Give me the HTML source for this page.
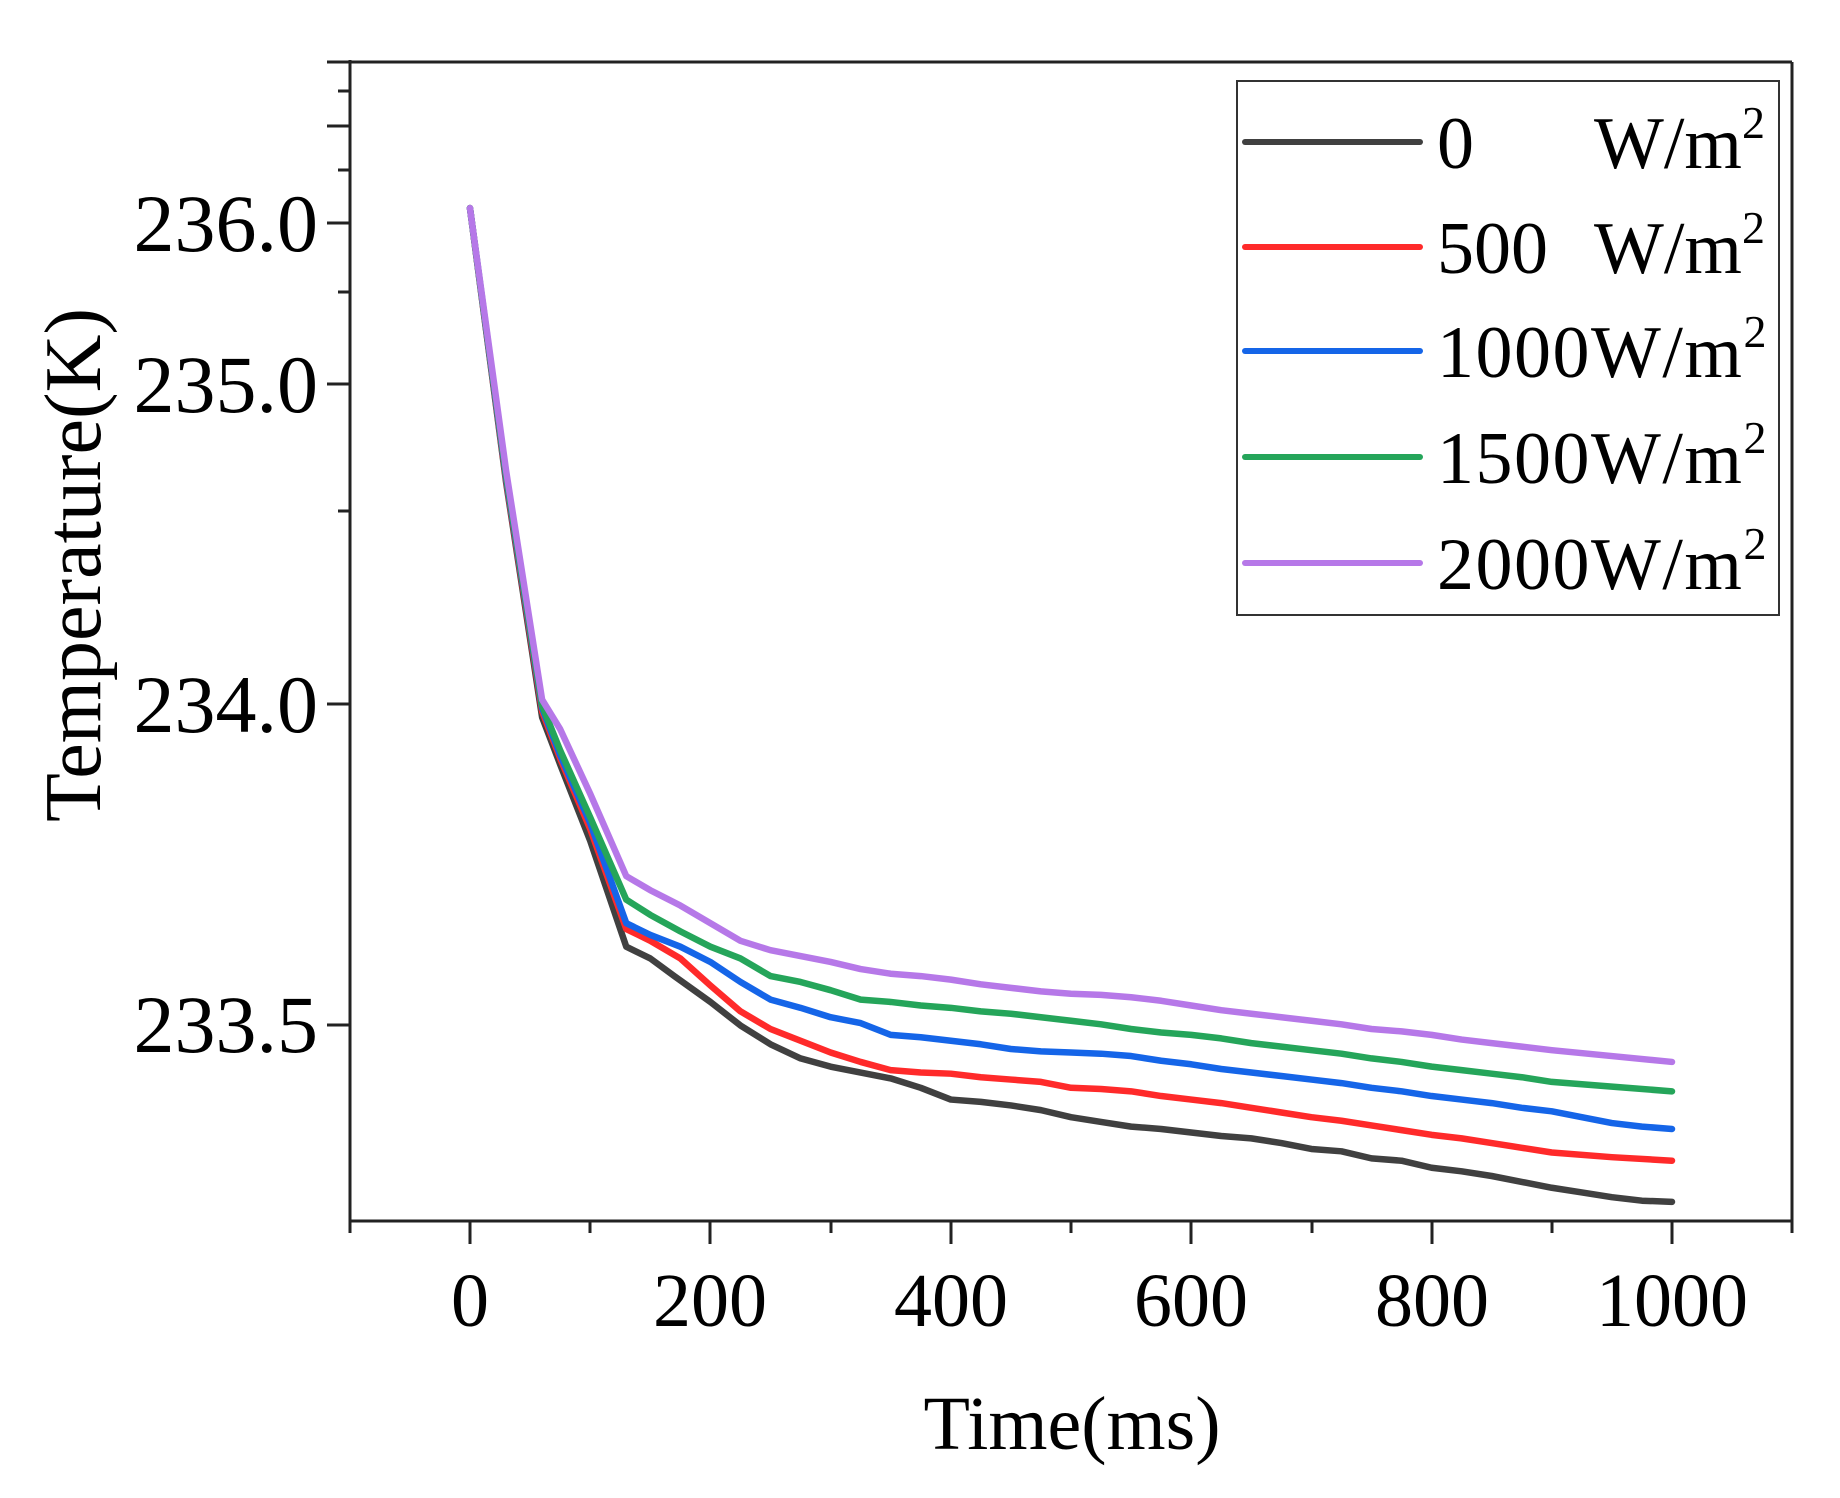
<!DOCTYPE html>
<html><head><meta charset="utf-8"><style>
html,body{margin:0;padding:0;background:#fff;}
svg{display:block;}
text{font-family:"Liberation Serif",serif;fill:#000;}
</style></head><body>
<svg width="1840" height="1498" viewBox="0 0 1840 1498" xmlns="http://www.w3.org/2000/svg">
<g stroke="#222" stroke-width="3" fill="none">
<line x1="350" y1="60" x2="350" y2="1223"/>
<line x1="327" y1="62" x2="1792" y2="62"/>
<line x1="1792" y1="62" x2="1792" y2="1223"/>
<line x1="349" y1="1221" x2="1793" y2="1221"/>
<line x1="338" y1="91" x2="350" y2="91"/>
<line x1="327" y1="126" x2="350" y2="126"/>
<line x1="338" y1="170" x2="350" y2="170"/>
<line x1="327" y1="223" x2="350" y2="223"/>
<line x1="338" y1="292" x2="350" y2="292"/>
<line x1="327" y1="384" x2="350" y2="384"/>
<line x1="338" y1="511" x2="350" y2="511"/>
<line x1="327" y1="704" x2="350" y2="704"/>
<line x1="327" y1="1025" x2="350" y2="1025"/>
<line x1="350" y1="1221" x2="350" y2="1233"/>
<line x1="470" y1="1221" x2="470" y2="1244"/>
<line x1="590" y1="1221" x2="590" y2="1233"/>
<line x1="710" y1="1221" x2="710" y2="1244"/>
<line x1="831" y1="1221" x2="831" y2="1233"/>
<line x1="951" y1="1221" x2="951" y2="1244"/>
<line x1="1071" y1="1221" x2="1071" y2="1233"/>
<line x1="1191" y1="1221" x2="1191" y2="1244"/>
<line x1="1312" y1="1221" x2="1312" y2="1233"/>
<line x1="1432" y1="1221" x2="1432" y2="1244"/>
<line x1="1552" y1="1221" x2="1552" y2="1233"/>
<line x1="1672" y1="1221" x2="1672" y2="1244"/>
<line x1="1792" y1="1221" x2="1792" y2="1233"/>
</g>
<g font-size="82" text-anchor="end">
<text x="318" y="251">236.0</text>
<text x="318" y="412">235.0</text>
<text x="318" y="732">234.0</text>
<text x="318" y="1052">233.5</text>
</g>
<g font-size="76" text-anchor="middle">
<text x="470" y="1326">0</text>
<text x="710" y="1326">200</text>
<text x="951" y="1326">400</text>
<text x="1191" y="1326">600</text>
<text x="1432" y="1326">800</text>
<text x="1672" y="1326">1000</text>
<text x="1072" y="1449">Time(ms)</text>
<text transform="translate(100,565) rotate(-90)" font-size="80">Temperature(K)</text>
</g>
<g transform="translate(470,0) scale(1.202,1.176)" fill="none" stroke-width="6.5" stroke-linejoin="round" stroke-linecap="round">
<polyline vector-effect="non-scaling-stroke" stroke="#404040" points="0,177 30,410 60,610 75,650 100,715 130,805 150,815 170,830 200,852 225,872 250,888 275,900 300,907 325,912 350,917 375,925 400,935 425,937 450,940 475,944 500,950 525,954 550,958 575,960 600,963 625,966 650,968 675,972 700,977 725,979 750,985 775,987 800,993 825,996 850,1000 875,1005 900,1010 925,1014 950,1018 975,1021 1000,1022"/>
<polyline vector-effect="non-scaling-stroke" stroke="#ff2a2a" points="0,177 30,408 60,605 75,645 100,705 130,790 150,800 175,815 200,838 225,860 250,875 275,885 300,895 325,903 350,910 375,912 400,913 425,916 450,918 475,920 500,925 525,926 550,928 575,932 600,935 625,938 650,942 675,946 700,950 725,953 750,957 775,961 800,965 825,968 850,972 875,976 900,980 950,984 1000,987"/>
<polyline vector-effect="non-scaling-stroke" stroke="#1565e8" points="0,177 30,406 60,602 75,642 100,700 130,785 150,795 175,805 200,818 225,835 250,850 275,857 300,865 325,870 350,880 375,882 400,885 425,888 450,892 475,894 500,895 525,896 550,898 575,902 600,905 625,909 650,912 675,915 700,918 725,921 750,925 775,928 800,932 825,935 850,938 875,942 900,945 925,950 950,955 975,958 1000,960"/>
<polyline vector-effect="non-scaling-stroke" stroke="#25a55a" points="0,177 30,404 60,600 75,638 100,695 130,765 150,778 175,792 200,805 225,815 250,830 275,835 300,842 325,850 350,852 375,855 400,857 425,860 450,862 475,865 500,868 525,871 550,875 575,878 600,880 625,883 650,887 675,890 700,893 725,896 750,900 775,903 800,907 825,910 850,913 875,916 900,920 950,924 1000,928"/>
<polyline vector-effect="non-scaling-stroke" stroke="#b678e8" points="0,177 30,400 60,595 75,620 100,675 130,745 150,757 175,770 200,785 225,800 250,808 275,813 300,818 325,824 350,828 375,830 400,833 425,837 450,840 475,843 500,845 525,846 550,848 575,851 600,855 625,859 650,862 675,865 700,868 725,871 750,875 775,877 800,880 825,884 850,887 875,890 900,893 950,898 1000,903"/>
</g>
<rect x="1237" y="81" width="542" height="534" fill="#fff" stroke="#333" stroke-width="2"/>
<g stroke-width="6" stroke-linecap="round">
<line x1="1245" y1="142" x2="1420" y2="142" stroke="#404040"/>
<line x1="1245" y1="247" x2="1420" y2="247" stroke="#ff2a2a"/>
<line x1="1245" y1="351" x2="1420" y2="351" stroke="#1565e8"/>
<line x1="1245" y1="457" x2="1420" y2="457" stroke="#25a55a"/>
<line x1="1245" y1="563" x2="1420" y2="563" stroke="#b678e8"/>
</g>
<g font-size="74">
<text x="1437" y="168">0</text><text x="1594" y="168">W/m<tspan font-size="46" dy="-30">2</tspan></text>
<text x="1437" y="273">500</text><text x="1594" y="273">W/m<tspan font-size="46" dy="-30">2</tspan></text>
<text x="1437" y="377" letter-spacing="1.5">1000W/m<tspan font-size="46" dy="-30">2</tspan></text>
<text x="1437" y="483" letter-spacing="1.5">1500W/m<tspan font-size="46" dy="-30">2</tspan></text>
<text x="1437" y="589" letter-spacing="1.5">2000W/m<tspan font-size="46" dy="-30">2</tspan></text>
</g>
</svg>
</body></html>
